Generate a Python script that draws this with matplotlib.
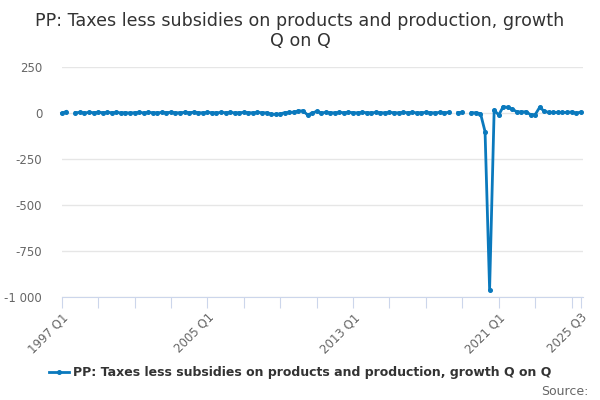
import matplotlib
matplotlib.use("Agg")
import matplotlib.pyplot as plt
import numpy as np

# Categories: quarters 1997 Q1 .. 2025 Q3
quarters = [f"{y} Q{q}" for y in range(1997, 2026) for q in range(1, 5)][:115]

# Growth Q on Q values (None = missing)
values = [
    -2, 8, None, 2, 3, 1, 3, 2, 4, 2,      # q0-9
    3, 2, 3, 1, 2, 0, 2, 3, 1, 3,          # q10-19
    2, 1, 3, 2, 4, 1, 2, 3, 2, 4,          # q20-29
    2, 1, 3, 2, 1, 3, 2, 3, 1, 2,          # q30-39
    3, 2, 1, 3, 2, 1, -6, -7, -5, 2,       # q40-49
    3, 5, 11, 12, -10, -1, 9, 1, 3, 2,     # q50-59
    1, 3, 2, 4, 2, 1, 3, 2, 1, 3,          # q60-69
    2, 1, 3, 2, 1, 3, 2, 3, 1, 2,          # q70-79
    3, 2, 1, 3, 2, 3, None, 2, 3, None,    # q80-89
    2, 1, -3, -101, -960, 16, -11, 35, 30, 21,  # q90-99
    6, 6, 7, -9, -9, 31, 10, 3, 3, 3,      # q100-109
    3, 3, 6, -1, 5,                        # q110-114
]

label_positions = [0, 32, 64, 96, 114]
y_ticks = [250, 0, -250, -500, -750, -1000]
y_tick_labels = ["250", "0", "-250", "-500", "-750", "-1 000"]

title = "PP: Taxes less subsidies on products and production, growth\nQ on Q"
series_name = "PP: Taxes less subsidies on products and production, growth Q on Q"

color = "#0a79bd"

fig = plt.figure(figsize=(6, 4), dpi=100)
ax = fig.add_axes([0.1028, 0.2575, 0.8695, 0.575])

x = np.arange(len(values))
y = np.array([np.nan if v is None else v for v in values], dtype=float)
line, = ax.plot(x, y, color=color, lw=2, marker="o", markersize=2.6,
                clip_on=False, zorder=3, label=series_name)

ax.set_xlim(0, 114.6)
ax.set_ylim(-1000, 250)

ax.set_yticks(y_ticks)
ax.set_yticklabels(y_tick_labels)
ax.grid(axis="y", color="#e6e6e6", lw=1, zorder=0)
ax.set_axisbelow(True)

for s in ["top", "right", "left"]:
    ax.spines[s].set_visible(False)
ax.spines["bottom"].set_color("#ccd6eb")

ax.tick_params(axis="x", length=8, color="#ccd6eb", labelcolor="#666666",
               labelsize=8.5, pad=2)
ax.tick_params(axis="y", length=0, labelcolor="#666666", labelsize=8.5, pad=14)

major = list(range(0, 113, 8)) + [114]
ax.set_xticks(major)
ax.set_xticklabels([quarters[i] if i in label_positions else "" for i in major])
for lab in ax.get_xticklabels():
    lab.set_rotation(45)
    lab.set_ha("right")
    lab.set_rotation_mode("anchor")

fig.text(0.5, 0.923, title, ha="center", va="center", fontsize=12.6,
         color="#333333", linespacing=1.15)

fig.legend(handles=[line], loc="center", bbox_to_anchor=(0.5, 0.068),
           frameon=False, prop={"weight": "bold", "size": 9},
           labelcolor="#333333", handlelength=1.6, handletextpad=0.3)

fig.text(0.98, 0.022, "Source:", ha="right", va="center", fontsize=9,
         color="#666666")

fig.savefig("out.png", dpi=100)
